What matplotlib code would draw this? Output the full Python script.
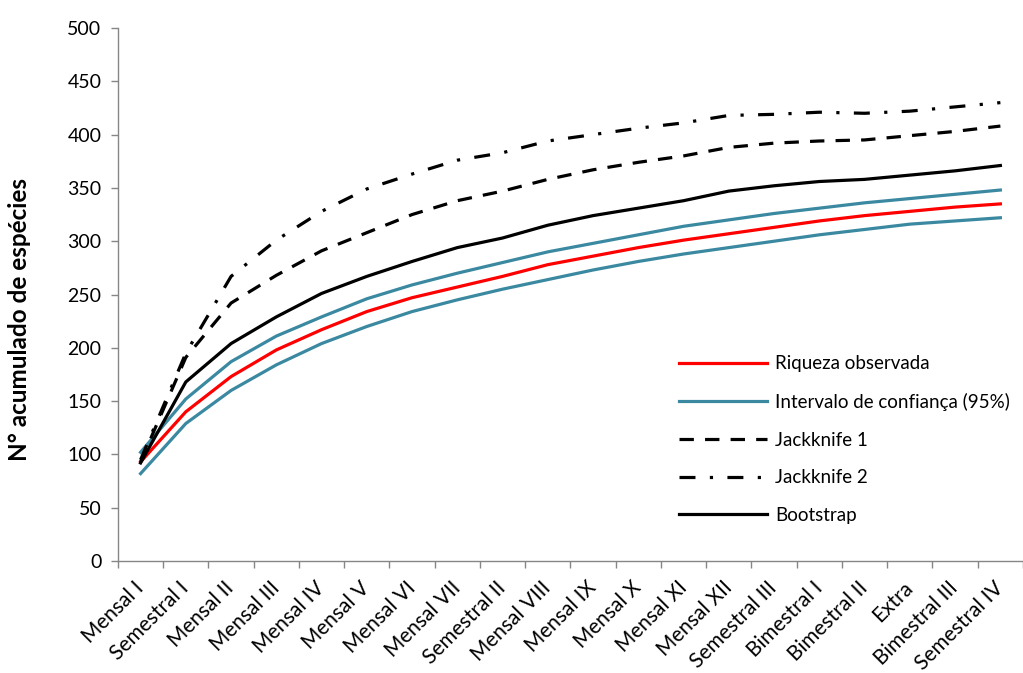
import matplotlib
matplotlib.use("Agg")
import matplotlib.pyplot as plt
import numpy as np

plt.rcParams['font.family'] = ['Lato', 'DejaVu Sans']

categories = ["Mensal I", "Semestral I", "Mensal II", "Mensal III", "Mensal IV",
              "Mensal V", "Mensal VI", "Mensal VII", "Semestral II", "Mensal VIII",
              "Mensal IX", "Mensal X", "Mensal XI", "Mensal XII", "Semestral III",
              "Bimestral I", "Bimestral II", "Extra", "Bimestral III", "Semestral IV"]

riqueza_observada = [93, 140, 173, 198, 217, 234, 247, 257, 267, 278,
                     286, 294, 301, 307, 313, 319, 324, 328, 332, 335]
ic_superior = [102, 152, 187, 211, 229, 246, 259, 270, 280, 290,
               298, 306, 314, 320, 326, 331, 336, 340, 344, 348]
ic_inferior = [82, 129, 160, 184, 204, 220, 234, 245, 255, 264,
               273, 281, 288, 294, 300, 306, 311, 316, 319, 322]
jackknife1 = [93, 191, 242, 268, 291, 308, 325, 338, 347, 358,
              367, 374, 380, 388, 392, 394, 395, 399, 403, 408]
jackknife2 = [95, 195, 267, 301, 328, 349, 363, 376, 383, 394,
              400, 406, 411, 418, 419, 421, 420, 422, 426, 430]
bootstrap = [92, 168, 204, 229, 251, 267, 281, 294, 303, 315,
             324, 331, 338, 347, 352, 356, 358, 362, 366, 371]

y_ticks = [0, 50, 100, 150, 200, 250, 300, 350, 400, 450, 500]

RED = "#FF0000"
TEAL = "#3B89A1"
GRAY = "#868686"
lw = 2.3

fig = plt.figure(figsize=(10.23, 6.73), dpi=100)
ax = fig.add_axes([0.1153, 0.1664, 0.8847, 0.7920])

x = np.arange(len(categories))

ax.plot(x, riqueza_observada, color=RED, lw=lw, label="Riqueza observada")
ax.plot(x, ic_superior, color=TEAL, lw=lw, label="Intervalo de confiança (95%)")
ax.plot(x, ic_inferior, color=TEAL, lw=lw)
ax.plot(x, jackknife1, color="black", lw=lw, dashes=(4.5, 3.5), label="Jackknife 1")
ax.plot(x, jackknife2, color="black", lw=lw, dashes=(5, 4.5, 1, 4.5), label="Jackknife 2")
ax.plot(x, bootstrap, color="black", lw=lw, label="Bootstrap")

ax.set_xlim(-0.5, len(categories) - 0.5)
ax.set_ylim(0, 500)
ax.set_yticks(y_ticks)
ax.tick_params(axis='y', labelsize=14, length=5, width=1, color=GRAY, pad=7)

ax.set_xticks(x)
ax.set_xticklabels(categories, rotation=45, ha='right', va='center',
                   rotation_mode='anchor', fontsize=15)
ax.tick_params(axis='x', which='major', length=0, pad=17)
ax.set_xticks(np.arange(len(categories) + 1) - 0.5, minor=True)
ax.tick_params(axis='x', which='minor', length=5, width=1, color=GRAY)

for side in ("top", "right"):
    ax.spines[side].set_visible(False)
for side in ("left", "bottom"):
    ax.spines[side].set_color(GRAY)
    ax.spines[side].set_linewidth(1)

ax.set_ylabel("N° acumulado de espécies", fontsize=17.5, fontweight='bold')
ax.yaxis.set_label_coords(-0.096, 0.454)

leg = ax.legend(loc='upper left', bbox_to_anchor=(0.612, 0.40), frameon=False,
                fontsize=13.5, handlelength=4.7, labelspacing=1.1, handletextpad=0.4,
                borderaxespad=0)

fig.savefig("out.png", dpi=100)
